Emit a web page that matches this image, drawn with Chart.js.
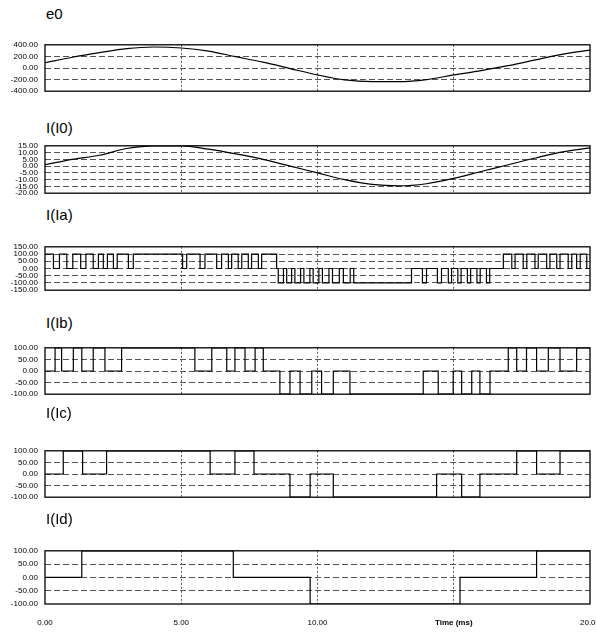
<!DOCTYPE html>
<html>
<head>
<meta charset="utf-8">
<script src="https://cdn.jsdelivr.net/npm/chart.js@4.4.1/dist/chart.umd.min.js"></script>
<style>
  html, body { margin: 0; padding: 0; background: #fff; }
  body { width: 596px; height: 636px; overflow: hidden; position: relative;
         font-family: "Liberation Sans", Arial, sans-serif; }
  .title { position: absolute; left: 46px; font-size: 15px; line-height: 16px; color: #000; }
  canvas { position: absolute; left: 0; }
</style>
</head>
<body>
<script>
// sampled waveforms, time in ms
const timeMs = [0, 1, 2, 3, 4, 5, 6, 7, 8, 9, 10, 11, 12, 13, 14, 15, 16, 17, 18, 19, 20];
const e0Values = [90, 185, 265, 335, 362, 345, 290, 195, 100, -10, -120, -205, -235, -235, -200, -120, -45, 40, 140, 240, 310];
const i0Values = [1, 5, 8, 13, 15, 15, 12.5, 9, 5, 0, -5, -10, -13.5, -14.6, -13, -9, -4, 1, 6, 10.5, 13.5];

// switched currents: level holds from each time until the next one
const iaTimes = [0, 0.31, 0.53, 0.80, 1.02, 1.31, 1.50, 1.77, 1.96, 2.14, 2.29, 2.51, 2.65, 3.06, 3.24,
  5.05, 5.20, 5.69, 5.87, 6.30, 6.48, 6.73, 6.85, 7.09, 7.22, 7.46, 7.58, 7.83, 7.95, 8.50,
  8.56, 8.75, 8.87, 9.05, 9.17, 9.38, 9.50, 9.72, 9.84, 10.05, 10.18, 10.42, 10.55, 10.80, 10.95, 11.20, 11.33,
  13.45, 13.85, 14.00, 14.40, 14.55, 14.80, 14.92, 15.15, 15.27, 15.50, 15.62, 15.85, 15.97, 16.20, 16.32,
  16.82, 17.13, 17.25, 17.55, 17.68, 17.98, 18.10, 18.41, 18.53, 18.78, 18.90, 19.20, 19.33, 19.51, 19.64, 19.88, 20];
const iaLevels = [100, 0, 100, 0, 100, 0, 100, 0, 100, 0, 100, 0, 100, 0, 100,
  0, 100, 0, 100, 0, 100, 0, 100, 0, 100, 0, 100, 0, 100, 0,
  -100, 0, -100, 0, -100, 0, -100, 0, -100, 0, -100, 0, -100, 0, -100, 0, -100,
  0, -100, 0, -100, 0, -100, 0, -100, 0, -100, 0, -100, 0, -100, 0,
  100, 0, 100, 0, 100, 0, 100, 0, 100, 0, 100, 0, 100, 0, 100, 0, 0];

const ibTimes = [0, 0.37, 0.61, 1.04, 1.35, 1.77, 2.20, 2.81, 5.50, 6.12, 6.67, 6.97, 7.34, 7.71, 8.01,
  8.62, 8.99, 9.36, 9.79, 10.15, 10.58, 11.19, 13.88, 14.43, 14.98, 15.29, 15.66, 15.96, 16.33,
  17.00, 17.31, 17.67, 18.04, 18.47, 18.90, 19.51, 20];
const ibLevels = [0, 100, 0, 100, 0, 100, 0, 100, 0, 100, 0, 100, 0, 100, 0,
  -100, 0, -100, 0, -100, 0, -100, 0, -100, 0, -100, 0, -100, 0,
  100, 0, 100, 0, 100, 0, 100, 100];

const icTimes = [0, 0.67, 1.38, 2.26, 6.06, 6.97, 7.67, 8.99, 9.73, 10.58, 14.37, 15.29, 15.96, 17.31, 18.04, 18.90, 20];
const icLevels = [0, 100, 0, 100, 0, 100, 0, -100, 0, -100, 0, -100, 0, 100, 0, 100, 100];

const idTimes = [0, 1.35, 6.91, 9.73, 15.23, 18.04, 20];
const idLevels = [0, 100, 0, -100, 0, 100, 100];

const xAxisLabel = 'Time (ms)';

const FONT = '"Liberation Sans", Arial, sans-serif';

function toPoints(xs, ys) {
  return xs.map((x, i) => ({ x, y: ys[i] }));
}

const framePlugin = {
  id: 'frame',
  afterDatasetsDraw(chart) {
    const { ctx, chartArea: a } = chart;
    ctx.save();
    ctx.strokeStyle = '#000';
    ctx.lineWidth = 1.3;
    ctx.strokeRect(a.left, a.top, a.right - a.left, a.bottom - a.top);
    ctx.restore();
  },
};

const panels = [
  { title: 'e0', titleTop: 6, top: 39, bottom: 97, min: -400, max: 400, step: 200,
    data: toPoints(timeMs, e0Values), smooth: true },
  { title: 'I(I0)', titleTop: 120, top: 140, bottom: 199, min: -20, max: 15, step: 5,
    data: toPoints(timeMs, i0Values), smooth: true },
  { title: 'I(Ia)', titleTop: 207, top: 241, bottom: 296, min: -150, max: 150, step: 50,
    data: toPoints(iaTimes, iaLevels) },
  { title: 'I(Ib)', titleTop: 315, top: 342, bottom: 400, min: -100, max: 100, step: 50,
    data: toPoints(ibTimes, ibLevels) },
  { title: 'I(Ic)', titleTop: 405, top: 445, bottom: 503, min: -100, max: 100, step: 50,
    data: toPoints(icTimes, icLevels) },
  { title: 'I(Id)', titleTop: 511, top: 545, bottom: 604, min: -100, max: 100, step: 50,
    data: toPoints(idTimes, idLevels), last: true },
];

function edgeTransparent(ctx, lo, hi) {
  const v = ctx.tick ? ctx.tick.value : null;
  return (v === lo || v === hi) ? 'rgba(0,0,0,0)' : '#555';
}

panels.forEach((p) => {
  const t = document.createElement('div');
  t.className = 'title';
  t.style.top = p.titleTop + 'px';
  t.textContent = p.title;
  document.body.appendChild(t);

  const padTop = 6;
  const padBottom = p.last ? 0 : 6;
  const xAxisH = p.last ? 30 : 0;
  const h = (p.bottom - p.top) + padTop + padBottom + xAxisH;
  const canvas = document.createElement('canvas');
  canvas.width = 602;
  canvas.height = h;
  canvas.style.top = (p.top - padTop) + 'px';
  document.body.appendChild(canvas);

  new Chart(canvas, {
    type: 'line',
    data: {
      datasets: [{
        data: p.data,
        borderColor: '#000',
        borderWidth: 1.2,
        pointRadius: 0,
        fill: false,
        stepped: p.smooth ? false : 'before',
        tension: p.smooth ? 0.4 : 0,
        cubicInterpolationMode: p.smooth ? 'monotone' : 'default',
      }],
    },
    options: {
      responsive: false,
      animation: false,
      devicePixelRatio: 1,
      layout: { padding: { top: padTop, bottom: padBottom, left: 0, right: 12 } },
      plugins: { legend: { display: false }, tooltip: { enabled: false } },
      scales: {
        x: {
          type: 'linear',
          min: 0,
          max: 20,
          ticks: {
            stepSize: 5,
            display: !!p.last,
            padding: 2,
            color: '#000',
            maxRotation: 0,
            autoSkip: false,
            font: (c) => ({ family: FONT, size: 8, weight: c.tick && c.tick.value === 15 ? 'bold' : 'normal' }),
            callback: (v) => (v === 15 ? xAxisLabel : v.toFixed(2)),
          },
          grid: {
            color: (c) => edgeTransparent(c, 0, 20),
            lineWidth: 1,
            drawTicks: !!p.last,
            tickLength: 12,
            tickColor: 'rgba(0,0,0,0)',
          },
          border: { display: false, dash: [2, 2] },
          afterFit: (s) => { s.height = xAxisH; },
        },
        y: {
          min: p.min,
          max: p.max,
          ticks: {
            stepSize: p.step,
            padding: 7,
            color: '#000',
            autoSkip: false,
            font: { family: FONT, size: 8 },
            callback: (v) => v.toFixed(2),
          },
          grid: { color: (c) => edgeTransparent(c, p.min, p.max), lineWidth: 1, drawTicks: false },
          border: { display: false, dash: [6, 3] },
          afterFit: (s) => { s.width = 45; },
        },
      },
    },
    plugins: [framePlugin],
  });
});
</script>
</body>
</html>
